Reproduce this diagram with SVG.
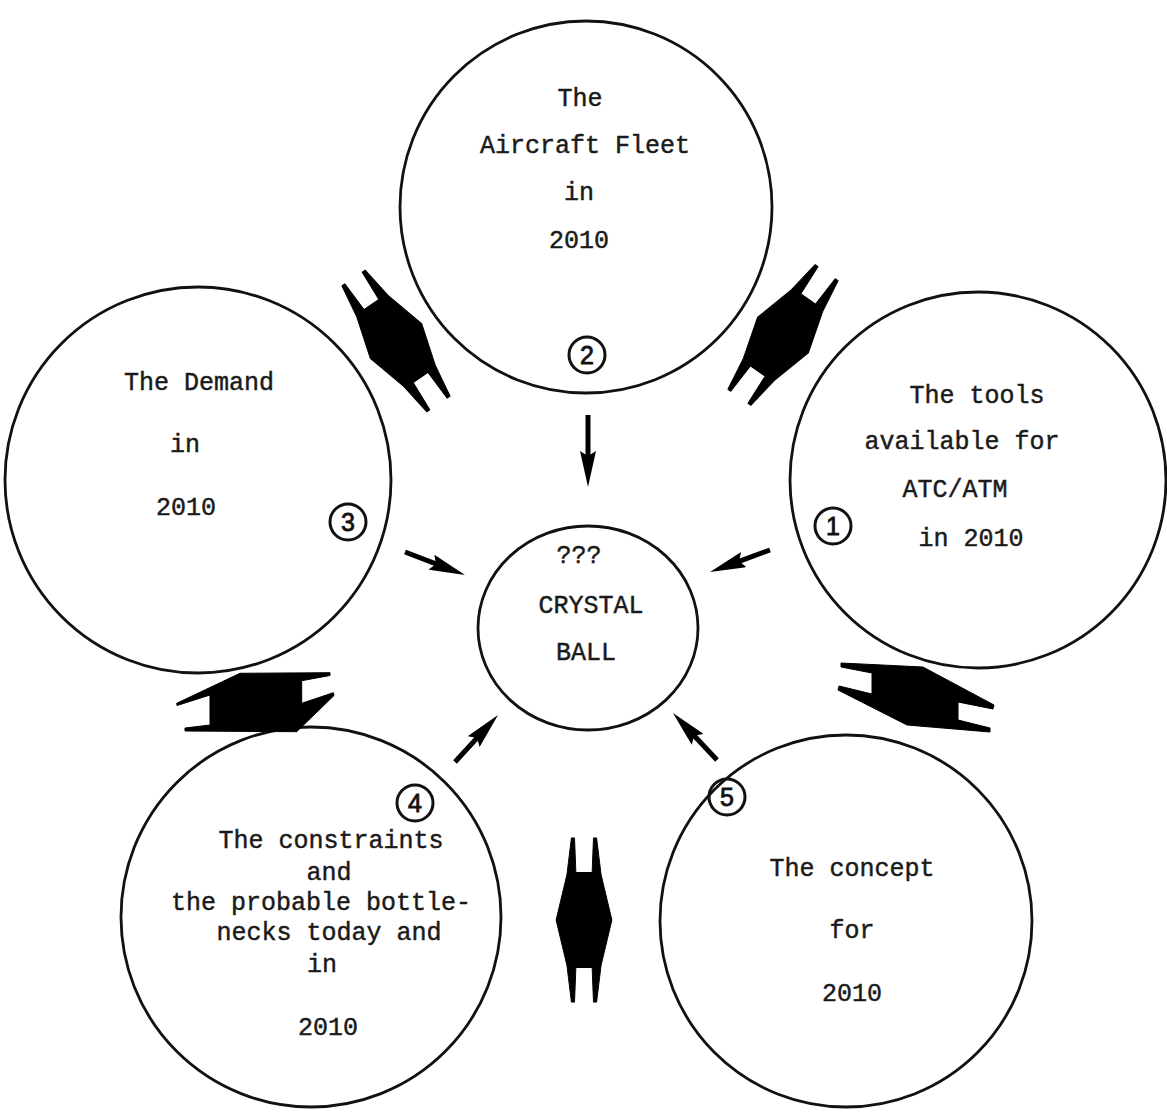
<svg xmlns="http://www.w3.org/2000/svg" width="1167" height="1117" viewBox="0 0 1167 1117">
<style>
.c{fill:none;stroke:#111;stroke-width:2.8}
.n{fill:none;stroke:#111;stroke-width:3}
.t{font-family:"Liberation Mono",monospace;font-size:25px;fill:#1a1a1a;stroke:#1a1a1a;stroke-width:0.45;text-anchor:middle}
.d{font-family:"Liberation Sans",sans-serif;font-size:25px;fill:#111;stroke:#111;stroke-width:0.8;text-anchor:middle}
.k{fill:#000;stroke:#000;stroke-width:1;stroke-linejoin:round}
.a{stroke:#000;stroke-width:5;fill:none}
</style>
<defs>
<marker id="ah" markerWidth="36" markerHeight="16" refX="21" refY="8" orient="auto" markerUnits="userSpaceOnUse">
<path d="M0,0 L36,8 L0,16 L5,8 z" fill="#000"/>
</marker>
<polygon id="hg" points="-14,-76 -10.5,-76 -9,-44 9,-44 10.5,-76 14,-76 19,-42 31,0 19,42 14,76 10.5,76 9,44 -9,44 -10.5,76 -14,76 -19,42 -31,0 -19,-42"/>
</defs>
<rect width="1167" height="1117" fill="#fff"/>

<g id="node-2">
<circle class="c" cx="586" cy="207" r="186"/>
<text class="t" x="580" y="106">The</text>
<text class="t" x="585" y="153">Aircraft Fleet</text>
<text class="t" x="579" y="200">in</text>
<text class="t" x="579" y="248">2010</text>
<circle class="n" cx="587" cy="355" r="18"/>
<text class="d" x="587" y="364">2</text>
</g>

<g id="node-3">
<circle class="c" cx="198" cy="480" r="193"/>
<text class="t" x="199" y="390">The Demand</text>
<text class="t" x="185" y="452">in</text>
<text class="t" x="186" y="515">2010</text>
<circle class="n" cx="348" cy="522" r="18"/>
<text class="d" x="348" y="531">3</text>
</g>

<g id="node-1">
<circle class="c" cx="978" cy="480" r="188"/>
<text class="t" x="977" y="403">The tools</text>
<text class="t" x="962" y="449">available for</text>
<text class="t" x="955" y="497">ATC/ATM</text>
<text class="t" x="971" y="546">in 2010</text>
<circle class="n" cx="833" cy="526" r="18"/>
<text class="d" x="833" y="535">1</text>
</g>

<g id="node-center">
<ellipse class="c" cx="588" cy="628" rx="110" ry="102"/>
<text class="t" x="579" y="563">???</text>
<text class="t" x="591" y="613">CRYSTAL</text>
<text class="t" x="586" y="660">BALL</text>
</g>

<g id="node-4">
<circle class="c" cx="311" cy="917" r="190"/>
<text class="t" x="331" y="848">The constraints</text>
<text class="t" x="329" y="880">and</text>
<text class="t" x="321" y="910">the probable bottle-</text>
<text class="t" x="329" y="940">necks today and</text>
<text class="t" x="322" y="972">in</text>
<text class="t" x="328" y="1035">2010</text>
<circle class="n" cx="415" cy="803" r="18"/>
<text class="d" x="415" y="812">4</text>
</g>

<g id="node-5">
<circle class="c" cx="846" cy="921" r="186"/>
<text class="t" x="852" y="876">The concept</text>
<text class="t" x="852" y="938">for</text>
<text class="t" x="852" y="1001">2010</text>
<circle class="n" cx="727" cy="797" r="18"/>
<text class="d" x="727" y="806">5</text>
</g>

<g id="connectors">
<use href="#hg" class="k" transform="translate(396,341) rotate(-34)"/>
<use href="#hg" class="k" transform="translate(783,335) rotate(35)"/>
<use href="#hg" class="k" transform="translate(584,920) scale(0.9,1.08)"/>
<polygon class="k" points="176.7,703.3 240,673.3 330,672.7 330,675.5 301.7,680.7 301.7,703.3 333.3,692.7 334,695.5 296.7,731.7 185,731 185,728 210,725 210,695 177,705.5"/>
<polygon class="k" points="841,663 923,667 994,705 993,709 958,702 958,720 990,728 990,732 907,725 838,690 839,686 872,694 872,673 841,667"/>
<line class="a" x1="588" y1="415" x2="588" y2="472" marker-end="url(#ah)"/>
<line class="a" x1="405" y1="552" x2="451" y2="569.6" marker-end="url(#ah)"/>
<line class="a" x1="770" y1="550" x2="724.1" y2="566.8" marker-end="url(#ah)"/>
<line class="a" x1="455" y1="762" x2="487.9" y2="726.1" marker-end="url(#ah)"/>
<line class="a" x1="717" y1="760" x2="683.2" y2="724" marker-end="url(#ah)"/>
</g>
</svg>
